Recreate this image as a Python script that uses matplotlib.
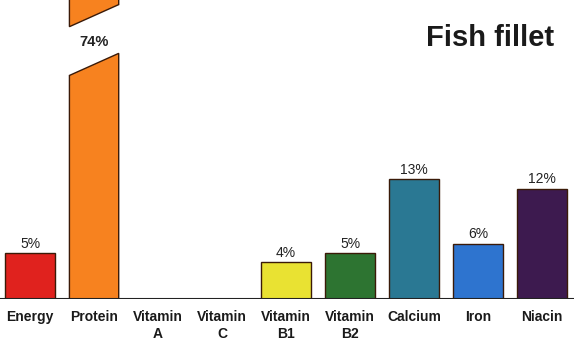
import matplotlib
matplotlib.use("Agg")
import matplotlib.pyplot as plt
from matplotlib.patches import Polygon

plt.rcParams["font.family"] = ["Liberation Sans", "DejaVu Sans"]

# данные: % суточной нормы на порцию
categories = ["Energy", "Protein", "Vitamin\nA", "Vitamin\nC", "Vitamin\nB1",
              "Vitamin\nB2", "Calcium", "Iron", "Niacin"]
values = [5, 74, 0, 0, 4, 5, 13, 6, 12]
labels = ["5%", "74%", "", "", "4%", "5%", "13%", "6%", "12%"]
colors = ["#e0221e", "#f7821f", "#ffffff", "#ffffff", "#e9e232",
          "#2d7431", "#2a7893", "#2e74cf", "#3d1a4f"]

YMAX = 32.5
BREAK_LO, BREAK_GAP, BREAK_SLANT = 24.3, 5.3, 2.4

fig = plt.figure(figsize=(5.74, 3.42), dpi=100)
ax = fig.add_axes([0, 43 / 342, 1, 299 / 342])
ax.set_xlim(-0.47, 8.5)
ax.set_ylim(0, YMAX)

x = list(range(len(categories)))
w = 0.77
for xi, v, lab, c in zip(x, values, labels, colors):
    if v <= 0:
        continue
    if v > YMAX:
        # разорванный столбик
        x0, x1 = xi - w / 2, xi + w / 2
        lower = [(x0, 0), (x1, 0), (x1, BREAK_LO + BREAK_SLANT), (x0, BREAK_LO)]
        upper = [(x0, BREAK_LO + BREAK_GAP), (x1, BREAK_LO + BREAK_GAP + BREAK_SLANT),
                 (x1, YMAX + 1), (x0, YMAX + 1)]
        for pts in (lower, upper):
            ax.add_patch(Polygon(pts, closed=True, facecolor=c, edgecolor="#3a1a08",
                                 linewidth=1.0, clip_on=True))
        ax.text(xi, BREAK_LO + BREAK_GAP / 2 + BREAK_SLANT / 2 - 0.2, lab,
                ha="center", va="center", fontsize=10.5, fontweight="bold", color="#222222")
    else:
        ax.bar(xi, v, width=w, color=c, edgecolor="#3a1a08", linewidth=1.0)
        ax.text(xi, v + 0.25, lab, ha="center", va="bottom", fontsize=10, color="#222222")

ax.axhline(0, color="#222222", linewidth=1.5)
for s in ax.spines.values():
    s.set_visible(False)
ax.set_yticks([])
ax.set_xticks(x)
ax.set_xticklabels(categories, fontsize=10, fontweight="bold", color="#1a1a1a",
                   linespacing=1.3)
ax.tick_params(axis="x", length=0, pad=8)

fig.text(0.853, 0.89, "Fish fillet", ha="center", va="center", fontsize=21,
         fontweight="bold", color="#1a1a1a")

fig.savefig("out.png", dpi=100)
